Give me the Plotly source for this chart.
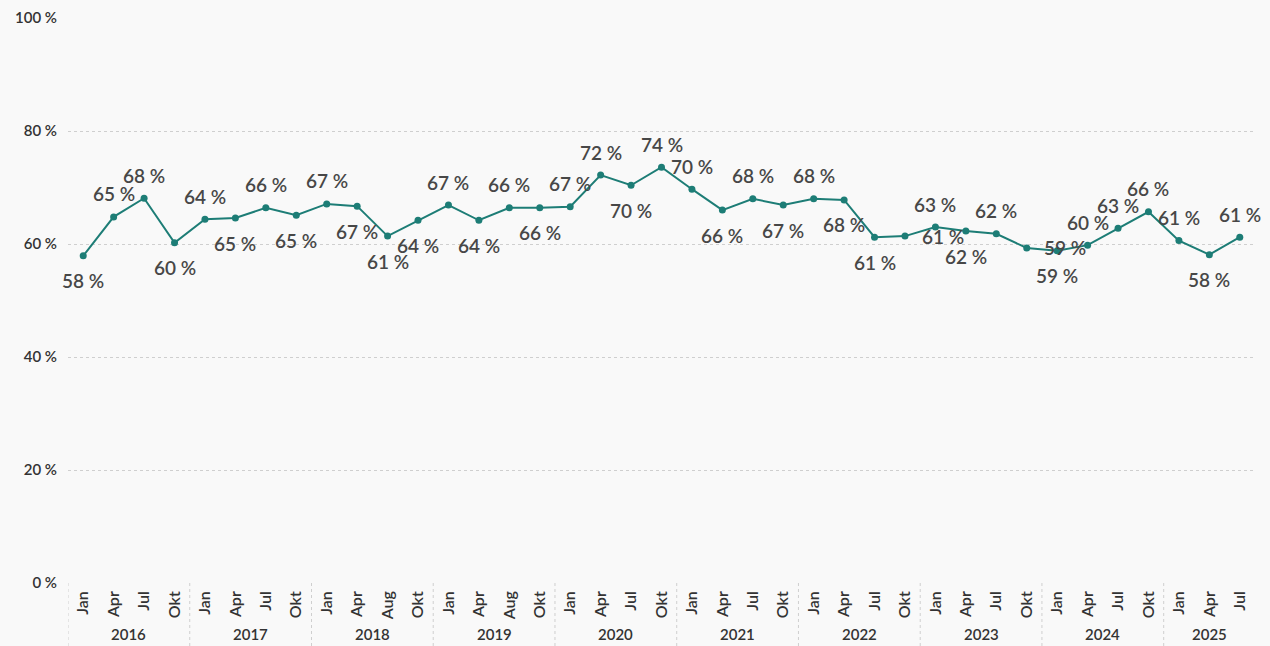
import plotly.graph_objects as go

years = ["2016"] * 4 + ["2017"] * 4 + ["2018"] * 4 + ["2019"] * 4 + ["2020"] * 4 + \
        ["2021"] * 4 + ["2022"] * 4 + ["2023"] * 4 + ["2024"] * 4 + ["2025"] * 3
months = ["Jan", "Apr", "Jul", "Okt",
          "Jan", "Apr", "Jul", "Okt",
          "Jan", "Apr", "Aug", "Okt",
          "Jan", "Apr", "Aug", "Okt",
          "Jan", "Apr", "Jul", "Okt",
          "Jan", "Apr", "Jul", "Okt",
          "Jan", "Apr", "Jul", "Okt",
          "Jan", "Apr", "Jul", "Okt",
          "Jan", "Apr", "Jul", "Okt",
          "Jan", "Apr", "Jul"]
values = [57.9, 64.8, 68.1, 60.2,
          64.4, 64.6, 66.4, 65.1,
          67.1, 66.7, 61.4, 64.2,
          66.9, 64.2, 66.4, 66.4,
          66.6, 72.2, 70.4, 73.6,
          69.7, 66.0, 68.0, 66.9,
          68.0, 67.8, 61.2, 61.4,
          63.0, 62.3, 61.8, 59.3,
          58.8, 59.8, 62.8, 65.7,
          60.6, 58.1, 61.2]
# label placement style: "a" = above, "b" = below, "r" = right of point
label_side = ["b", "a", "a", "b",
              "a", "b", "a", "b",
              "a", "b", "b", "b",
              "a", "b", "a", "b",
              "a", "a", "b", "a",
              "a", "b", "a", "b",
              "a", "b", "b", "r",
              "a", "b", "a", "r",
              "b", "a", "a", "a",
              "a", "b", "a"]
y_ticks = [0, 20, 40, 60, 80, 100]

line_color = "#1d7d76"
bg = "#f9f9f9"
font_family = "Lato, Roboto, DejaVu Sans, sans-serif"
label_color = "#474747"

idx = list(range(len(values)))

fig = go.Figure()
fig.add_trace(go.Scatter(
    x=idx,
    y=values,
    mode="lines+markers",
    line=dict(color=line_color, width=2),
    marker=dict(color=line_color, size=7),
    hoverinfo="skip",
))

shift = {"a": (0, 23), "b": (0, -25), "r": (38, 0)}
annotations = []
for i, v in enumerate(values):
    xs, ys = shift[label_side[i]]
    annotations.append(dict(
        x=i, y=v, xref="x", yref="y", text=f"{v:.0f} %",
        showarrow=False, xshift=xs, yshift=ys,
        font=dict(family=font_family, size=19, color=label_color, weight=600),
    ))

# year labels and dividers
groups = []
for i, yv in enumerate(years):
    if not groups or groups[-1][0] != yv:
        groups.append([yv, i, i])
    else:
        groups[-1][2] = i
shapes = []
for yv, start, end in groups:
    annotations.append(dict(
        x=(start + end) / 2, y=0, xref="x", yref="paper", text=yv,
        showarrow=False, yshift=-62,
        font=dict(family=font_family, size=15, color="#333333", weight=600),
    ))
    shapes.append(dict(
        type="line", xref="x", yref="paper", x0=start - 0.5, x1=start - 0.5,
        y0=0, y1=-0.12, line=dict(color="#cfcfcf", width=1, dash="dot"),
    ))

fig.update_layout(
    width=1270, height=646,
    margin=dict(l=68, r=15, t=18, b=63),
    paper_bgcolor=bg, plot_bgcolor=bg,
    showlegend=False,
    font=dict(family=font_family, color="#444444"),
    annotations=annotations,
    shapes=shapes,
)
fig.update_yaxes(
    range=[0, 100], tickvals=y_ticks, ticktext=[f"{t} %" for t in y_ticks],
    showgrid=True, gridcolor="#cfcfcf", griddash="dot", gridwidth=1,
    zeroline=False, showline=False, automargin=False,
    tickfont=dict(family=font_family, size=15, color="#333333", weight=600),
    ticklabelstandoff=10,
)
fig.update_xaxes(
    range=[-0.5, len(values) - 0.5],
    tickvals=idx, ticktext=months,
    tickangle=-90, automargin=False,
    showgrid=False, showline=False, zeroline=False,
    tickfont=dict(family=font_family, size=16, color="#333333", weight=600),
    ticklabelstandoff=4,
)

fig.write_html(
    "out.html",
    config={"displayModeBar": False},
    post_script="document.body.style.margin='0px';document.body.style.background='%s';" % bg,
)
